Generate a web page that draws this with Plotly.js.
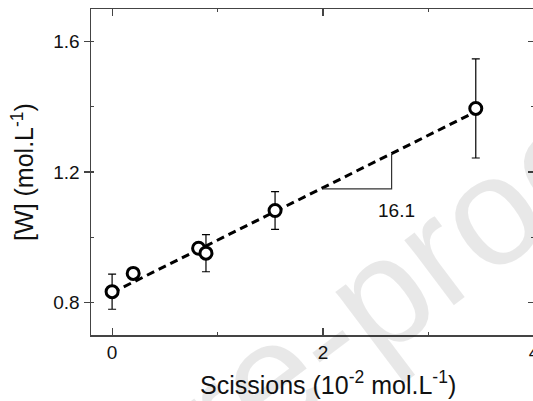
<!DOCTYPE html>
<html>
<head>
<meta charset="utf-8">
<script src="https://cdn.plot.ly/plotly-3.0.1.min.js"></script>
<style>
  html, body { margin: 0; padding: 0; overflow: hidden; background: #fff; }
  #chart { width: 540px; height: 401px; }
</style>
</head>
<body>
<div id="chart"></div>
<script>
// Measured data (x in 10^-2 mol/L, y in mol/L)
const scissions = [0, 0.20, 0.82, 0.89, 1.545, 3.448];
const wConc = [0.833, 0.889, 0.966, 0.951, 1.082, 1.395];
const wErr = [0.054, null, null, 0.057, 0.058, 0.152];

// Linear fit line endpoints
const fitX = [0, 3.448];
const fitY = [0.83, 1.385];

// Slope triangle and its label
const slopeTriX = [2.0, 2.65, 2.65];
const slopeTriY = [1.148, 1.148, 1.255];
const slopeLabel = "16.1";
const slopeLabelX = 2.70;
const slopeLabelY = 1.083;

const xTitle = "Scissions (10<sup>-2</sup> mol.L<sup>-1</sup>)";
const yTitle = "[W] (mol.L<sup>-1</sup>)";
const watermark = "Journal Pre-proof";

const FONT = "Liberation Sans, Arial, sans-serif";
const AX = "#444";

const traces = [
  {
    x: fitX, y: fitY, type: "scatter", mode: "lines",
    line: { color: "#000", width: 3, dash: "8px,5px" },
    hoverinfo: "skip", showlegend: false, xaxis: "x", yaxis: "y"
  },
  {
    x: slopeTriX, y: slopeTriY, type: "scatter", mode: "lines",
    line: { color: "#333", width: 1.2 },
    hoverinfo: "skip", showlegend: false, xaxis: "x", yaxis: "y"
  },
  {
    x: scissions, y: wConc, type: "scatter", mode: "markers",
    marker: { symbol: "circle", size: 12, color: "#fff", line: { color: "#000", width: 3 } },
    error_y: { type: "data", array: wErr, visible: true, color: "#000", thickness: 1.2, width: 4 },
    showlegend: false, xaxis: "x", yaxis: "y2"
  }
];

const layout = {
  width: 540, height: 401,
  margin: { l: 91, r: 6, t: 9, b: 66 },
  paper_bgcolor: "#fff", plot_bgcolor: "#fff",
  font: { family: FONT, color: "#111", size: 19 },
  showlegend: false,
  xaxis: {
    range: [-0.2, 4.0], tick0: 0, dtick: 2,
    ticks: "inside", ticklen: 7, tickwidth: 1.2, tickcolor: AX,
    minor: { dtick: 1, ticks: "inside", ticklen: 3, tickwidth: 1.2, tickcolor: AX },
    showline: true, linecolor: AX, linewidth: 1.5, mirror: "ticks",
    showgrid: false, zeroline: false,
    tickfont: { size: 19, family: FONT, color: "#111" }
  },
  yaxis: {
    range: [0.7, 1.7], tick0: 0.8, dtick: 0.4,
    ticks: "outside", ticklen: 6, tickwidth: 1.2, tickcolor: AX,
    minor: { dtick: 0.2, ticks: "inside", ticklen: 3, tickwidth: 1.2, tickcolor: AX },
    showline: true, linecolor: AX, linewidth: 1.5,
    showgrid: false, zeroline: false,
    tickfont: { size: 19, family: FONT, color: "#111" },
    title: { text: yTitle, font: { size: 25, family: FONT, color: "#111" }, standoff: 12 }
  },
  yaxis2: {
    overlaying: "y", side: "right",
    range: [0.7, 1.7], tick0: 0.8, dtick: 0.4,
    ticks: "inside", ticklen: 6, tickwidth: 1.2, tickcolor: AX,
    minor: { dtick: 0.2, ticks: "inside", ticklen: 3, tickwidth: 1.2, tickcolor: AX },
    showline: true, linecolor: AX, linewidth: 1.5,
    showticklabels: false, showgrid: false, zeroline: false
  },
  annotations: [
    {
      xref: "paper", yref: "paper", x: 0.129, y: -0.408,
      xanchor: "center", yanchor: "middle",
      text: watermark, showarrow: false, textangle: -37,
      font: { size: 155, family: FONT, color: "rgba(0,0,0,0.09)" }
    },
    {
      xref: "x", yref: "y", x: slopeLabelX, y: slopeLabelY,
      text: slopeLabel, showarrow: false,
      font: { size: 19, family: FONT, color: "#111" }
    },
    {
      xref: "paper", yref: "paper", x: 0.535, y: -0.147,
      xanchor: "center", yanchor: "middle",
      text: xTitle, showarrow: false,
      font: { size: 25, family: FONT, color: "#111" }
    }
  ]
};

Plotly.newPlot("chart", traces, layout, { staticPlot: true, displayModeBar: false });
</script>
</body>
</html>
